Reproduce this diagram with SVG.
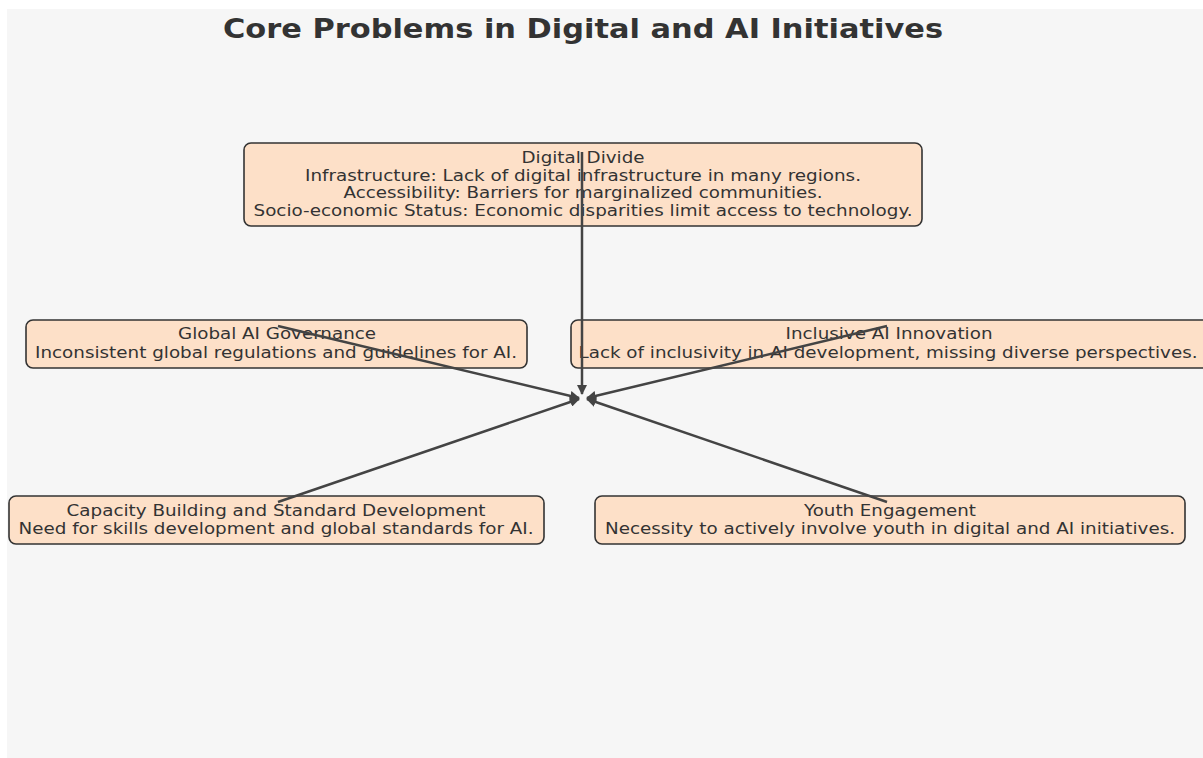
<svg xmlns="http://www.w3.org/2000/svg" width="1203" height="758" viewBox="0 0 1203 758">
<style>
.box{fill:#fde0c8;stroke:#333;stroke-width:1.6}
.t{font-family:"DejaVu Sans",sans-serif;font-size:16.5px;fill:#333;text-anchor:middle}
.title{font-family:"DejaVu Sans",sans-serif;font-size:26px;font-weight:bold;fill:#333;text-anchor:middle}
.c{stroke:#444;stroke-width:2.5;fill:none;marker-end:url(#ah)}
</style>
<defs>
<marker id="ah" viewBox="0 0 10 10" refX="9" refY="5" markerWidth="4" markerHeight="4" orient="auto" markerUnits="strokeWidth">
<path d="M0,0 L10,5 L0,10 Z" fill="#444"/>
</marker>
</defs>
<rect width="1203" height="758" fill="#fff"/>
<rect x="7" y="9" width="1196" height="749" fill="#f6f6f6"/>
<text class="title" x="583" y="38" textLength="720" lengthAdjust="spacingAndGlyphs">Core Problems in Digital and AI Initiatives</text>
<g id="digital-divide">
<rect class="box" x="244" y="143" width="678" height="83" rx="7"/>
<text class="t" x="583" y="163" textLength="123" lengthAdjust="spacingAndGlyphs">Digital Divide</text>
<text class="t" x="583" y="181" textLength="556" lengthAdjust="spacingAndGlyphs">Infrastructure: Lack of digital infrastructure in many regions.</text>
<text class="t" x="583" y="198" textLength="479" lengthAdjust="spacingAndGlyphs">Accessibility: Barriers for marginalized communities.</text>
<text class="t" x="583" y="216" textLength="659" lengthAdjust="spacingAndGlyphs">Socio-economic Status: Economic disparities limit access to technology.</text>
</g>
<g id="global-ai-governance">
<rect class="box" x="26" y="320" width="501" height="48" rx="7"/>
<text class="t" x="277" y="339" textLength="198" lengthAdjust="spacingAndGlyphs">Global AI Governance</text>
<text class="t" x="276" y="358" textLength="482" lengthAdjust="spacingAndGlyphs">Inconsistent global regulations and guidelines for AI.</text>
</g>
<g id="inclusive-ai-innovation">
<rect class="box" x="571" y="320" width="640" height="48" rx="7"/>
<text class="t" x="889" y="339" textLength="207" lengthAdjust="spacingAndGlyphs">Inclusive AI Innovation</text>
<text class="t" x="888" y="358" textLength="619" lengthAdjust="spacingAndGlyphs">Lack of inclusivity in AI development, missing diverse perspectives.</text>
</g>
<g id="capacity-building">
<rect class="box" x="9" y="496" width="535" height="48" rx="7"/>
<text class="t" x="276" y="516" textLength="419" lengthAdjust="spacingAndGlyphs">Capacity Building and Standard Development</text>
<text class="t" x="276" y="534" textLength="515" lengthAdjust="spacingAndGlyphs">Need for skills development and global standards for AI.</text>
</g>
<g id="youth-engagement">
<rect class="box" x="595" y="496" width="590" height="48" rx="7"/>
<text class="t" x="890" y="516" textLength="172" lengthAdjust="spacingAndGlyphs">Youth Engagement</text>
<text class="t" x="890" y="534" textLength="570" lengthAdjust="spacingAndGlyphs">Necessity to actively involve youth in digital and AI initiatives.</text>
</g>
<g id="connectors">
<line class="c" x1="582" y1="152" x2="582" y2="394"/>
<line class="c" x1="278" y1="326" x2="579" y2="398"/>
<line class="c" x1="887" y1="326" x2="587" y2="398"/>
<line class="c" x1="278" y1="502" x2="579" y2="399"/>
<line class="c" x1="887" y1="502" x2="587" y2="399"/>
</g>
</svg>
